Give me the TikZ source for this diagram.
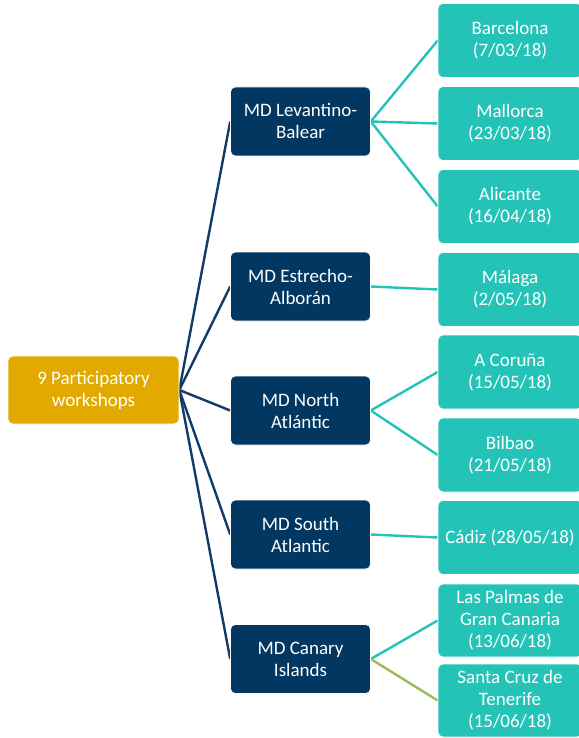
\documentclass[tikz,border=0pt]{standalone}
\usepackage{fontspec}
\setmainfont{Carlito}
\usetikzlibrary{backgrounds}
\definecolor{rootgold}{RGB}{226,170,0}
\definecolor{mdnavy}{RGB}{2,55,97}
\definecolor{linknavy}{RGB}{18,60,104}
\definecolor{leafteal}{RGB}{36,195,184}
\definecolor{leafgreen}{RGB}{155,187,89}
\begin{document}
\begin{tikzpicture}[x=1pt,y=-1pt,
  box/.style={rounded corners=5pt, align=center, text=white,
    font=\fontsize{19}{22}\selectfont, inner sep=0pt, draw=white, line width=0.6pt},
  rootbox/.style={box, fill=rootgold, minimum width=171pt, minimum height=68pt},
  mdbox/.style={box, fill=mdnavy, minimum width=140pt, minimum height=69pt},
  leafbox/.style={box, fill=leafteal, minimum width=144pt, minimum height=74pt},
  mdlink/.style={draw=linknavy, line width=2.4pt},
  leaflink/.style={draw=leafteal, line width=2.4pt},
  greenlink/.style={draw=leafgreen, line width=2.4pt}]
\useasboundingbox (0,0) rectangle (578,738);

% root
\node[rootbox] (root) at (93.5,390) {9 Participatory\\workshops};

% maritime demarcations
\node[mdbox] (lev) at (300.5,121.5) {MD Levantino-\\Balear};
\node[mdbox] (est) at (300.5,286.5) {MD Estrecho-\\Alborán};
\node[mdbox] (nor) at (300.5,410.5) {MD North\\Atlántic};
\node[mdbox] (sou) at (300.5,534.5) {MD South\\Atlantic};
\node[mdbox] (can) at (300.5,659) {MD Canary\\Islands};

% workshops
\node[leafbox] (bcn) at (510,40.5) {Barcelona\\(7/03/18)};
\node[leafbox] (mal) at (510,123.5) {Mallorca\\(23/03/18)};
\node[leafbox] (ali) at (510,206.5) {Alicante\\(16/04/18)};
\node[leafbox] (mlg) at (510,289.5) {Málaga\\(2/05/18)};
\node[leafbox] (cor) at (510,372) {A Coruña\\(15/05/18)};
\node[leafbox] (bil) at (510,455) {Bilbao\\(21/05/18)};
\node[leafbox] (cad) at (510,537.5) {Cádiz (28/05/18)};
\node[leafbox, minimum height=73pt] (lpa) at (510,620.5) {Las Palmas de\\Gran Canaria\\(13/06/18)};
\node[leafbox, minimum height=73pt] (tfe) at (510,700.5) {Santa Cruz de\\Tenerife\\(15/06/18)};

% connectors, kept behind the boxes
\begin{scope}[on background layer]
\fill[white] (0,0) rectangle (578,738);
\foreach \m in {lev,est,nor,sou,can}
  \draw[mdlink] (root.east) -- (\m.west);
\foreach \m/\l in {lev/bcn,lev/mal,lev/ali,est/mlg,nor/cor,nor/bil,sou/cad,can/lpa}
  \draw[leaflink] (\m.east) -- (\l.west);
\draw[greenlink] (can.east) -- (tfe.west);
\end{scope}
\end{tikzpicture}
\end{document}
